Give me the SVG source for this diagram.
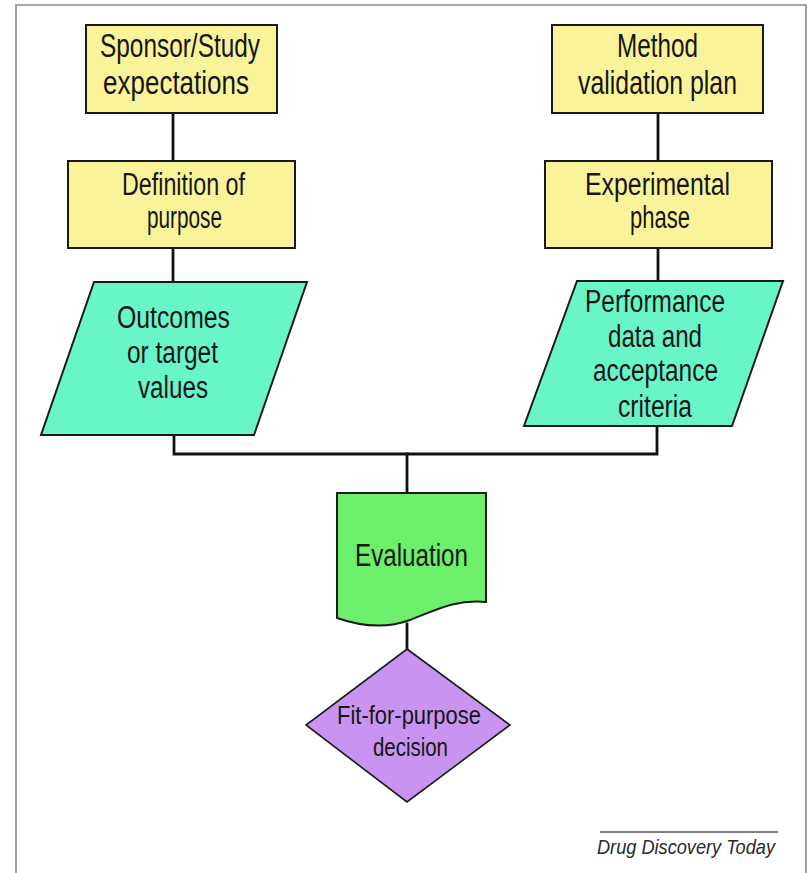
<svg xmlns="http://www.w3.org/2000/svg" width="810" height="873" viewBox="0 0 810 873">
  <style>
    .frame { fill: none; stroke: #8a8a8a; stroke-width: 1.6; }
    .box { fill: #f9f49a; stroke: #1a1a1a; stroke-width: 2; }
    .io { fill: #68f6c8; stroke: #1a1a1a; stroke-width: 2; }
    .doc { fill: #6cf06c; stroke: #1a1a1a; stroke-width: 2; }
    .dec { fill: #c994f1; stroke: #1a1a1a; stroke-width: 1.6; }
    .wire { fill: none; stroke: #111111; stroke-width: 2.8; stroke-linecap: square; }
    text { font-family: "Liberation Sans", Arial, sans-serif; fill: #161616; text-anchor: middle; }
    .t33 { font-size: 33px; }
    .t31 { font-size: 31px; }
    .t25 { font-size: 25px; }
    .credit { font-size: 21px; font-style: italic; fill: #2a2a2a; }
  </style>

  <!-- page frame (open at the bottom) -->
  <path class="frame" d="M16,873 V5 H806 V873"/>

  <!-- connectors -->
  <g id="connectors">
    <line class="wire" x1="173" y1="113" x2="173" y2="161"/>
    <line class="wire" x1="173" y1="248" x2="173" y2="282"/>
    <line class="wire" x1="658" y1="113" x2="658" y2="161"/>
    <line class="wire" x1="658" y1="248" x2="658" y2="281"/>
    <polyline class="wire" points="174,435 174,454 657,454 657,426"/>
    <line class="wire" x1="407" y1="454" x2="407" y2="493"/>
    <line class="wire" x1="407" y1="624" x2="407" y2="649"/>
  </g>

  <g id="sponsor">
    <rect class="box" x="86" y="25" width="191" height="88"/>
    <text class="t33" x="180" y="57" textLength="160" lengthAdjust="spacingAndGlyphs">Sponsor/Study</text>
    <text class="t33" x="176" y="94" textLength="146" lengthAdjust="spacingAndGlyphs">expectations</text>
  </g>

  <g id="definition">
    <rect class="box" x="68" y="161" width="227" height="87"/>
    <text class="t31" x="183.5" y="195" textLength="123" lengthAdjust="spacingAndGlyphs">Definition of</text>
    <text class="t31" x="184.5" y="228" textLength="75" lengthAdjust="spacingAndGlyphs">purpose</text>
  </g>

  <g id="method">
    <rect class="box" x="552" y="25" width="211" height="88"/>
    <text class="t33" x="657.5" y="57" textLength="81" lengthAdjust="spacingAndGlyphs">Method</text>
    <text class="t33" x="657.5" y="94" textLength="159" lengthAdjust="spacingAndGlyphs">validation plan</text>
  </g>

  <g id="experimental">
    <rect class="box" x="545" y="161" width="227" height="87"/>
    <text class="t31" x="657.5" y="195" textLength="145" lengthAdjust="spacingAndGlyphs">Experimental</text>
    <text class="t31" x="660" y="228" textLength="60" lengthAdjust="spacingAndGlyphs">phase</text>
  </g>

  <g id="outcomes">
    <polygon class="io" points="94,282 307,282 254,435 41,435"/>
    <text class="t31" x="173.5" y="328" textLength="113" lengthAdjust="spacingAndGlyphs">Outcomes</text>
    <text class="t31" x="172.5" y="363" textLength="91" lengthAdjust="spacingAndGlyphs">or target</text>
    <text class="t31" x="173" y="398" textLength="70" lengthAdjust="spacingAndGlyphs">values</text>
  </g>

  <g id="performance">
    <polygon class="io" points="577,281 783,281 732,426 524,426"/>
    <text class="t31" x="655" y="312" textLength="140" lengthAdjust="spacingAndGlyphs">Performance</text>
    <text class="t31" x="655" y="347" textLength="94" lengthAdjust="spacingAndGlyphs">data and</text>
    <text class="t31" x="655.5" y="381" textLength="125" lengthAdjust="spacingAndGlyphs">acceptance</text>
    <text class="t31" x="655" y="417" textLength="74" lengthAdjust="spacingAndGlyphs">criteria</text>
  </g>

  <g id="evaluation">
    <path class="doc" d="M337,493 H486 V602 C456,599 436,610 410,620 C386,629 360,626 337,618 Z"/>
    <text class="t31" x="411.5" y="566" textLength="113" lengthAdjust="spacingAndGlyphs">Evaluation</text>
  </g>

  <g id="decision">
    <polygon class="dec" points="407,649 510,725 407,802 306,725"/>
    <text class="t25" x="409" y="724" textLength="144" lengthAdjust="spacingAndGlyphs">Fit-for-purpose</text>
    <text class="t25" x="410.5" y="756" textLength="75" lengthAdjust="spacingAndGlyphs">decision</text>
  </g>

  <!-- journal credit -->
  <g id="credit">
    <line x1="600" y1="832" x2="778" y2="832" stroke="#555555" stroke-width="1.4"/>
    <text class="credit" x="686" y="854" textLength="178" lengthAdjust="spacingAndGlyphs">Drug Discovery Today</text>
  </g>
</svg>
